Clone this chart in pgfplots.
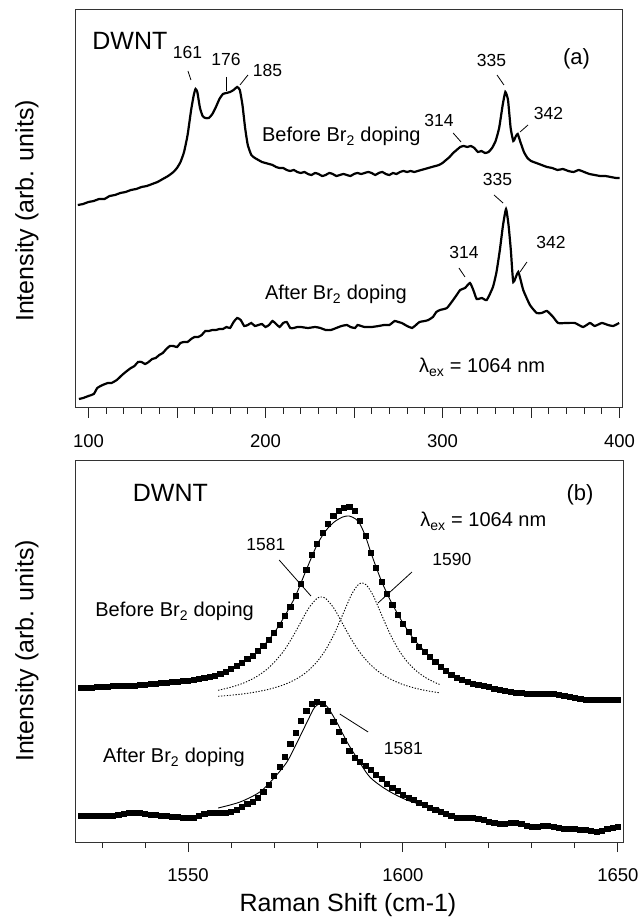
\documentclass[border=0pt]{standalone}
\usepackage{fontspec}
\setmainfont{Liberation Sans}
\usepackage{pgfplots}
\pgfplotsset{compat=1.18}
\newcommand\fnum{\fontsize{17.5bp}{20bp}\selectfont}
\newcommand\ftxt{\fontsize{20bp}{24bp}\selectfont}
\newcommand\fbig{\fontsize{25bp}{29bp}\selectfont}
\newcommand\fpan{\fontsize{22bp}{26bp}\selectfont}
\pgfplotsset{myax/.style={scale only axis, axis line style={line width=1bp, black!80},
  tick align=outside, xtick pos=bottom, ytick=\empty,
  major tick length=10bp, minor tick length=6bp,
  every tick/.style={black!85, line width=0.9bp},
  tick label style={font=\fontsize{18.5bp}{20bp}\selectfont},
  xticklabel style={yshift=-13bp},
  /pgf/number format/assume math mode=true,
  /pgf/number format/set thousands separator={},
  clip=false}}
\begin{document}
\begin{tikzpicture}
\useasboundingbox (0,0) rectangle (639bp,920bp);
% ---------------- panel (a)
\begin{axis}[myax, at={(75bp,512bp)}, anchor=south west, width=547bp, height=398bp,
  xmin=92.4, xmax=401.4, ymin=0, ymax=398,
  xtick={100,150,...,400}, xticklabels={100,,200,,300,,400},
  minor xtick={110,120,130,140,160,170,180,190,210,220,230,240,260,270,280,290,310,320,330,340,360,370,380,390}]
\addplot[black, line width=2.2bp, smooth, tension=0.3] coordinates {
(94,203)(97,204)(100,206)(103,207)(106,209)(109,209)(112,212)(115,213)(118,215)(121,216)
(124,218)(127,219)(130,221)(133,222)(136,224)(139,226)(142,229)(145,232)(148,236)(150,240)
(152,246)(154,256)(156,273)(158,298)(159.5,313)(160.5,319)(161.5,316)(163,300)(164.5,292)(166,290)
(168,290)(170,294)(172,301)(174,309)(176,314)(178,315)(180,316)(182,318)(184,321)(185.5,318)
(187,303)(188.5,280)(190,263)(192,253)(194,250)(196,248)(198,246)(200,245)(202,244)(204,243)
(206,241)(208,240)(210,240)(212,238)(214,237)(216,238)(218,236)(220,235)(222,236)(224,234)
(226,233)(228,235)(230,234)(232,232)(234,233)(236,235)(238,234)(240,232)(242,233)(244,234)
(246,233)(248,232)(250,234)(252,235)(254,234)(256,235)(258,236)(260,235)(262,233)(264,235)
(266,236)(268,234)(270,233)(272,235)(274,234)(276,236)(278,237)(280,236)(282,237)(284,236)
(286,237)(288,238)(290,239)(292,240)(294,241)(296,242)(298,243)(300,245)(302,248)(304,251)
(306,255)(308,258)(310,261)(312,262)(314,261)(316,262)(318,260)(320,256)(322,257)(324,255)
(326,256)(328,260)(330,267)(332,280)(334,303)(335.5,316)(337,308)(338.5,280)(340,267)(341.5,272)
(342.5,274)(344,266)(346,256)(348,250)(350,247)(353,245)(356,243)(359,241)(362,240)(365,238)
(368,239)(371,237)(374,236)(377,238)(380,236)(383,234)(386,233)(389,232)(392,232)(395,231)
(398,230)(400,230)};
\addplot[black, line width=2.2bp, smooth, tension=0.3] coordinates {
(94.6,9)(97,10)(100,12)(103,14)(105,20)(108,23)(111,25)(113,25)(116,28)(119,33)
(121,36)(124,40)(126,42)(128,46)(130,46)(132,44)(134,46)(136,49)(138,50)(140,53)
(142,55)(144,59)(146,62)(148,62)(150,61)(152,65)(154,66)(156,66)(158,69)(160,71)
(162,71)(164,73)(166,77)(168,77)(170,78)(172,78)(174,79)(176,79)(178,81)(180,80)
(182,86)(184,90)(186,88)(188,82)(190,83)(192,85)(194,82)(196,83)(198,84)(200,81)
(202,83)(204,87)(206,84)(208,81)(210,85)(212,86)(214,80)(216,80)(218,81)(220,81)
(224,80)(228,81)(231,80)(234,78)(237,78)(240,80)(243,82)(246,83)(248,81)(250.6,80)
(252,83)(254,82)(256,81)(260,81)(264,82)(267,83)(270,83)(273,87)(275,86)(277,85)
(280,82)(282.8,80)(285,83)(287,86)(290,87)(292,88)(294.6,91)(296.5,96)(298.6,98)(302.5,100)
(306,108)(308,113)(310,118)(312.7,120)(315.5,125)(317.4,118)(319.3,109)(322.2,110)(325,108)(328.5,121)
(330.5,136)(332.4,158)(334.2,183)(335.9,199)(337.3,183)(338.6,158)(340,126)(342.8,136)(345.6,118)(349.4,103)
(353.2,95)(356,95)(359,97)(362.5,91)(365.3,85)(370,85)(374.8,85)(379.4,81)(383.3,85)(386,82)
(390,85)(393.5,83)(396.4,82)(399.8,85)};
% annotations (a)
\node[font=\fbig] at (123.4,367) {DWNT};
\node[font=\fpan] at (375.7,349.5) {(a)};
\node[font=\fnum] at (155.9,355.5) {161};
\node[font=\fnum] at (177.7,349) {176};
\node[font=\fnum] at (201.1,338) {185};
\node[font=\fnum] at (298.0,288) {314};
\node[font=\fnum] at (327.7,348) {335};
\node[font=\fnum] at (359.9,294.5) {342};
\node[font=\fnum] at (331.1,228.5) {335};
\node[font=\fnum] at (312.1,155.5) {314};
\node[font=\fnum] at (361.3,165.5) {342};
\node[font=\ftxt, anchor=base west, inner sep=0pt] at (198.0,266) {Before Br\textsubscript{2} doping};
\node[font=\ftxt, anchor=base west, inner sep=0pt] at (199.7,108) {After Br\textsubscript{2} doping};
\node[font=\ftxt, anchor=base west, inner sep=0pt] at (286.7,35) {λ\textsubscript{ex} = 1064 nm};
\draw[line width=0.8bp] (156.2,337) -- (157.9,328);
\draw[line width=0.8bp] (178.2,331) -- (178.2,317);
\draw[line width=0.8bp] (190.1,333) -- (185.6,323);
\draw[line width=0.8bp] (306.0,275) -- (310.5,266);
\draw[line width=0.8bp] (330.8,333) -- (334.7,323);
\draw[line width=0.8bp] (348.3,283) -- (343.8,276);
\draw[line width=0.8bp] (329.1,213) -- (334.2,205);
\draw[line width=0.8bp] (309.3,140) -- (312.7,131);
\draw[line width=0.8bp] (347.7,146) -- (343.8,136);
\end{axis}
% ---------------- panel (b)
\begin{axis}[myax, at={(75bp,78bp)}, anchor=south west, width=548bp, height=381bp,
  xmin=1523.7, xmax=1651.2, ymin=0, ymax=381,
  xtick={1550,1600,1650},
  minor xtick={1530,1540,1560,1570,1580,1590,1610,1620,1630,1640}]
\addplot[only marks, mark=square*, mark size=2.6bp, black] coordinates {
(1525,154)(1526.25,154)(1527.5,154)(1528.75,155)(1530,155)(1531.25,155)(1532.5,156)(1533.75,156)(1535,156)(1536.25,156)
(1537.5,156)(1538.75,157)(1540,157)(1541.25,158)(1542.5,158)(1543.75,159)(1545,159)(1546.25,160)(1547.5,160)(1548.75,161)
(1550,161)(1551.25,162)(1552.5,163)(1553.75,164)(1555,165)(1556.25,166)(1557.5,168)(1558.75,170)(1560,173)(1561.25,176)
(1562.5,179)(1563.75,183)(1565,186)(1566.25,191)(1567.5,196)(1568.75,202)(1570,209)(1571.25,217)(1572.5,226)(1573.75,235)
(1575,246)(1576.25,258)(1577.5,272)(1578.75,287)(1580,298)(1581.25,309)(1582.5,318)(1583.75,326)(1585,331)(1586.25,334)
(1587.5,335)(1588.75,331)(1590,321)(1591.25,306)(1592.5,289)(1593.75,274)(1595,260)(1596.25,248)(1597.5,237)(1598.75,227)
(1600,218)(1601.25,210)(1602.5,202)(1603.75,195)(1605,190)(1606.25,185)(1607.5,180)(1608.75,175)(1610,171)(1611.25,167)
(1612.5,164)(1613.75,162)(1615,160)(1616.25,158)(1617.5,157)(1618.75,156)(1620,155)(1621.25,153)(1622.5,152)(1623.75,151)
(1625,150)(1626.25,149)(1627.5,149)(1628.75,148)(1630,148)(1631.25,148)(1632.5,148)(1633.75,148)(1635,148)(1636.25,147)
(1637.5,146)(1638.75,145)(1640,144)(1641.25,143)(1642.5,142)(1643.75,142)(1645,142)(1646.25,142)(1647.5,142)(1648.75,142)
(1650,142)};
\addplot[only marks, mark=square*, mark size=2.6bp, black] coordinates {
(1525,26)(1526.25,26)(1527.5,26)(1528.75,26)(1530,26)(1531.25,26)(1532.5,26)(1533.75,27)(1535,28)(1536.25,29)
(1537.5,29)(1538.75,29)(1540,28)(1541.25,27)(1542.5,27)(1543.75,26)(1545,26)(1546.25,25)(1547.5,25)(1548.75,24)
(1550,24)(1551.25,24)(1552.5,26)(1553.75,28)(1555,29)(1556.25,29)(1557.5,29)(1558.75,29)(1560,30)(1561.25,32)
(1562.5,35)(1563.75,38)(1565,40)(1566.25,44)(1567.5,50)(1568.75,57)(1570,66)(1571.25,75)(1572.5,85)(1573.75,98)
(1575,109)(1576.25,121)(1577.5,131)(1578.75,138)(1580,140)(1581.25,138)(1582.5,131)(1583.75,120)(1585,110)(1586.25,101)
(1587.5,91)(1588.75,84)(1590,80)(1591.25,76)(1592.5,72)(1593.75,67)(1595,63)(1596.25,58)(1597.5,54)(1598.75,51)
(1600,47)(1601.25,44)(1602.5,42)(1603.75,39)(1605,37)(1606.25,34)(1607.5,32)(1608.75,30)(1610,28)(1611.25,26)
(1612.5,24)(1613.75,24)(1615,24)(1616.25,24)(1617.5,23)(1618.75,22)(1620,20)(1621.25,19)(1622.5,18)(1623.75,18)
(1625,19)(1626.25,19)(1627.5,18)(1628.75,16)(1630,15)(1631.25,15)(1632.5,16)(1633.75,16)(1635,15)(1636.25,14)
(1637.5,13)(1638.75,13)(1640,13)(1641.25,12)(1642.5,12)(1643.75,11)(1645,10)(1646.25,11)(1647.5,13)(1648.75,14)
(1650,15)};
% fits
\addplot[black, line width=0.9bp, smooth] coordinates {
(1557,169)(1560,173)(1562.5,179)(1565,186)(1567.5,196)(1570,209)(1572.5,226)(1575,246)(1577.5,272)(1580,297)
(1582,311)(1584,320)(1586,325)(1587.5,326)(1589,323)(1590,318)(1591.25,306)(1592.5,290)(1593.75,275)(1595,261)
(1596.25,249)(1597.5,238)(1600,219)(1602.5,203)(1605,191)(1607.5,180)(1608.5,177)};
\addplot[black, line width=0.9bp, smooth] coordinates {
(1557,34)(1562.1,40)(1566.7,50)(1569.8,63)(1573,80)(1575.3,99)(1577.7,120)(1579.5,135)(1581.2,139)(1582.6,134)
(1584.7,119)(1587,100)(1589.3,84)(1592.3,65)(1596.3,52)(1600.9,42)(1606.3,35)(1608.6,33)};
\addplot[black, line width=0.9bp, dash pattern=on 1.3bp off 1.6bp, smooth] coordinates {
(1557,151.7)(1560,154.8)(1563,159.1)(1566,165.5)(1569,175.1)(1572,189.5)(1574,202.6)(1576,218.0)(1578,233.4)(1580,243.6)
(1581,245)(1582,243.6)(1584,233.4)(1586,218.0)(1588,202.6)(1590,189.5)(1592,179.3)(1594,171.4)(1596,165.5)(1598,161)
(1600,157.5)(1602,154.8)(1604,152.6)(1606,150.9)(1608.5,149.2)};
\addplot[black, line width=0.9bp, dash pattern=on 1.3bp off 1.6bp, smooth] coordinates {
(1557,145.7)(1560,146.8)(1563,148.2)(1566,150.2)(1569,152.9)(1572,156.8)(1574,160.4)(1576,165.1)(1578,171.5)(1580,180.2)
(1582,192.1)(1584,208.0)(1586,227.5)(1588,247.1)(1589.5,256.9)(1590.5,259)(1591.5,256.9)(1593,247.1)(1595,227.5)(1597,208.0)
(1599,192.1)(1601,180.2)(1603,171.5)(1605,165.1)(1607,160.4)(1608.5,157.6)};
% annotations (b)
\node[font=\fbig] at (1545.9,349.5) {DWNT};
\node[font=\fpan] at (1641.2,347) {(b)};
\node[font=\ftxt, anchor=base west, inner sep=0pt] at (1604.0,315) {λ\textsubscript{ex} = 1064 nm};
\node[font=\fnum] at (1568.1,297.5) {1581};
\node[font=\fnum] at (1611.4,282.5) {1590};
\node[font=\fnum] at (1600.1,93.5) {1581};
\node[font=\ftxt, anchor=base west, inner sep=0pt] at (1528.4,225) {Before Br\textsubscript{2} doping};
\node[font=\ftxt, anchor=base west, inner sep=0pt] at (1530.2,79) {After Br\textsubscript{2} doping};
\draw[line width=0.8bp] (1571.2,282) -- (1578.6,246);
\draw[line width=0.8bp] (1602.1,270) -- (1594.2,239);
\draw[line width=0.8bp] (1585.3,128) -- (1591.9,110);
\end{axis}
% axis titles
\node[rotate=90, font=\fbig] at (27bp,709bp) {Intensity (arb. units)};
\node[rotate=90, font=\fbig] at (27bp,269bp) {Intensity (arb. units)};
\node[font=\fbig] at (348bp,14.5bp) {Raman Shift (cm-1)};
\end{tikzpicture}
\end{document}
